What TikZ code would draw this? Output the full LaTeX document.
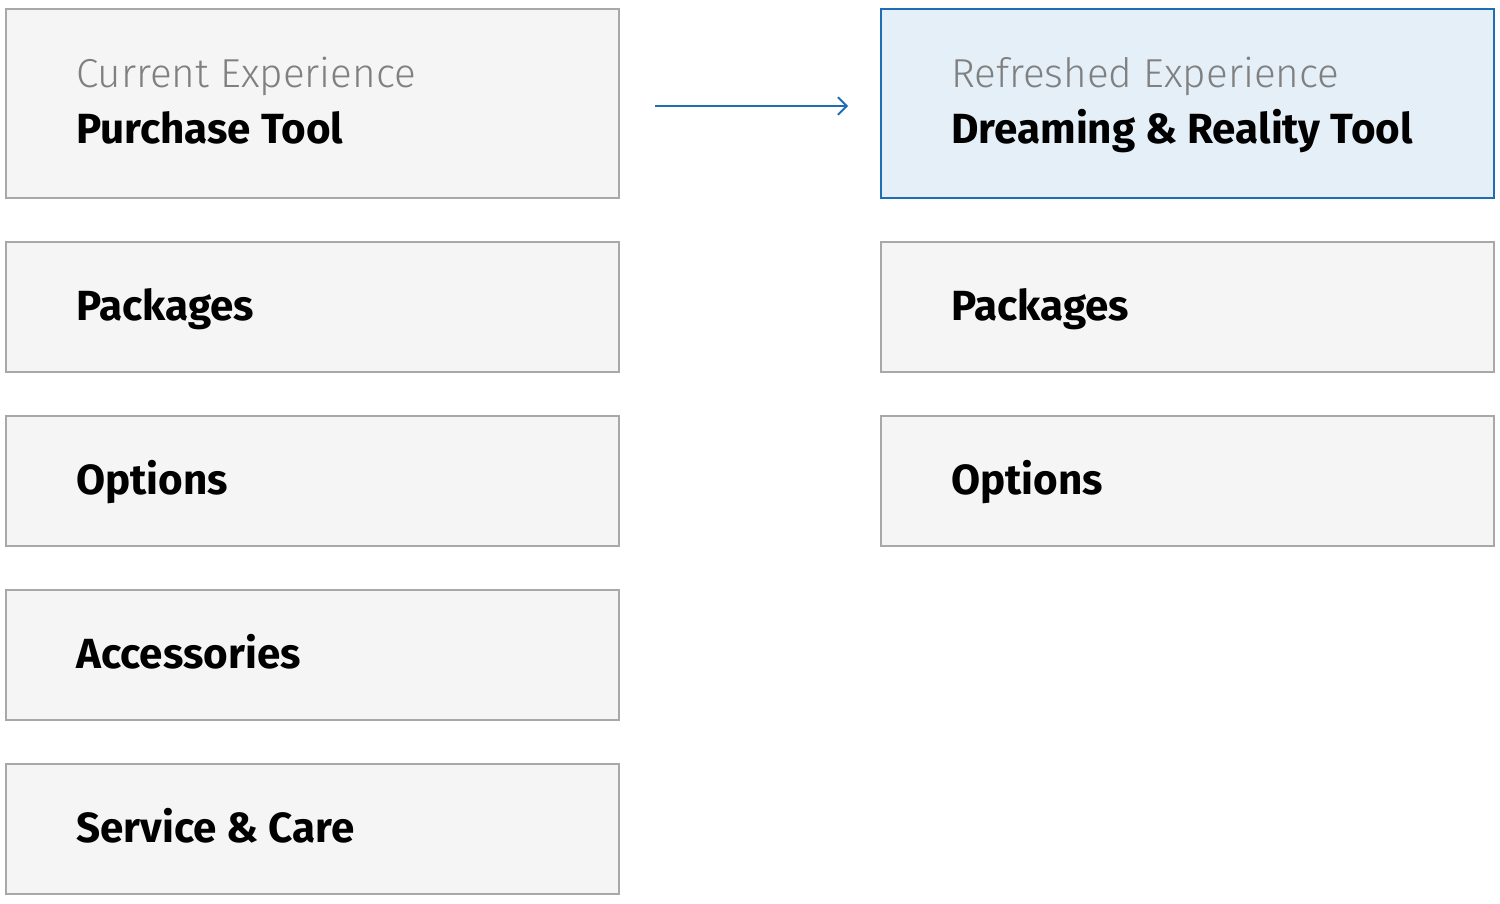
\documentclass[tikz,border=0pt]{standalone}
\usepackage{fontspec}
\setmainfont{Fira Sans}
\newfontfamily\lightfont{Fira Sans Light}
\usetikzlibrary{positioning, arrows.meta}
\definecolor{BoxFill}{HTML}{F5F5F5}
\definecolor{BoxLine}{HTML}{A8A8A8}
\definecolor{NewFill}{HTML}{E4EFF8}
\definecolor{NewLine}{HTML}{1F6DB5}
\definecolor{SubGray}{HTML}{808080}
\begin{document}
\begin{tikzpicture}[x=0.02cm, y=-0.02cm,
    box/.style={draw=BoxLine, fill=BoxFill, line width=1.1pt},
    newbox/.style={draw=NewLine, fill=NewFill, line width=1.1pt},
    label/.style={anchor=base west, inner sep=0pt, font=\fontsize{24}{28}\selectfont\bfseries},
    sub/.style={anchor=base west, inner sep=0pt, text=SubGray, font=\fontsize{23}{28}\selectfont\lightfont}]

    \useasboundingbox (0,0) rectangle (1500,903);

    % current experience
    \draw[box] (6,9) rectangle (619,198);
    \node[sub] (curSub) at (76,87) {Current Experience};
    \node[label] (curTool) at (76,143) {Purchase Tool};
    \draw[box] (6,242) rectangle (619,372);
    \node[label] (curPack) at (76,320) {Packages};
    \draw[box] (6,416) rectangle (619,546);
    \node[label] (curOpt) at (76,494) {Options};
    \draw[box] (6,590) rectangle (619,720);
    \node[label] (curAcc) at (76,668) {Accessories};
    \draw[box] (6,764) rectangle (619,894);
    \node[label] (curServ) at (76,842) {Service \& Care};

    % refreshed experience
    \draw[newbox] (881,9) rectangle (1494,198);
    \node[sub] (newSub) at (951,87) {Refreshed Experience};
    \node[label] (newTool) at (951,143) {Dreaming \& Reality Tool};
    \draw[box] (881,242) rectangle (1494,372);
    \node[label] (newPack) at (951,320) {Packages};
    \draw[box] (881,416) rectangle (1494,546);
    \node[label] (newOpt) at (951,494) {Options};

    \coordinate (arrA) at (655,106);
    \coordinate (arrB) at (848,106);
    \draw[NewLine, line width=1.1pt, -{Straight Barb[length=5pt, width=10pt]}] (arrA) -- (arrB);
\end{tikzpicture}
\end{document}
